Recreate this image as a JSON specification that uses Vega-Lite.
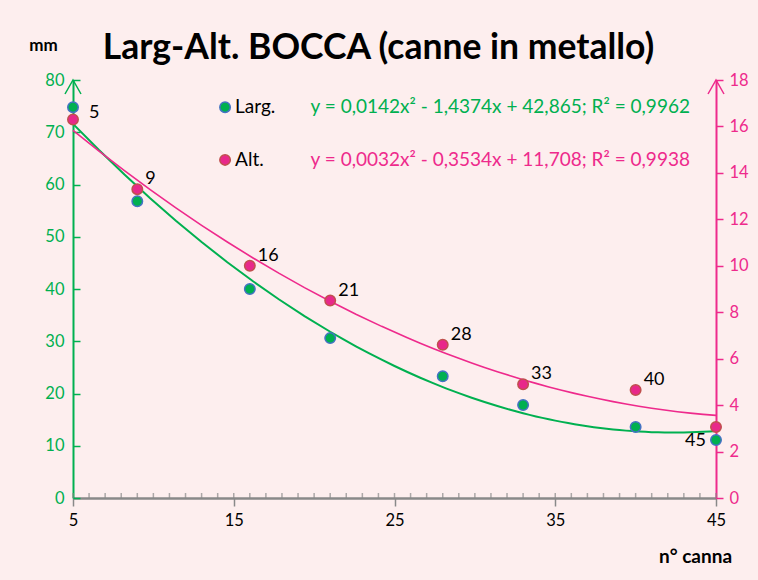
{
  "$schema": "https://vega.github.io/schema/vega-lite/v6.json",
  "width": 643,
  "height": 418,
  "autosize": "none",
  "padding": {"left": 73, "top": 80, "right": 42, "bottom": 82},
  "background": "#FDEEEE",
  "title": {"text": "Larg-Alt. BOCCA (canne in metallo)", "fontSize": 35.5, "font": "Lato", "fontWeight": "bold", "color": "#000000", "anchor": "middle", "dx": -16, "offset": 0, "dy": 30},
  "config": {
    "view": {"stroke": null},
    "font": "Lato",
    "axis": {"grid": false, "labelFont": "Lato", "titleFont": "Lato", "labelFontSize": 16.5}
  },
  "datasets": {
    "misure": [
      {"n": 5, "larg": 74.8, "alt": 16.3},
      {"n": 9, "larg": 56.8, "alt": 13.3},
      {"n": 16, "larg": 40.0, "alt": 10.0},
      {"n": 21, "larg": 30.6, "alt": 8.5},
      {"n": 28, "larg": 23.3, "alt": 6.6},
      {"n": 33, "larg": 17.8, "alt": 4.9},
      {"n": 40, "larg": 13.6, "alt": 4.65},
      {"n": 45, "larg": 11.1, "alt": 3.06}
    ],
    "minori": [
      {"n": 5}, {"n": 6}, {"n": 7}, {"n": 8}, {"n": 9}, {"n": 10}, {"n": 11}, {"n": 12}, {"n": 13}, {"n": 14},
      {"n": 15}, {"n": 16}, {"n": 17}, {"n": 18}, {"n": 19}, {"n": 20}, {"n": 21}, {"n": 22}, {"n": 23}, {"n": 24},
      {"n": 25}, {"n": 26}, {"n": 27}, {"n": 28}, {"n": 29}, {"n": 30}, {"n": 31}, {"n": 32}, {"n": 33}, {"n": 34},
      {"n": 35}, {"n": 36}, {"n": 37}, {"n": 38}, {"n": 39}, {"n": 40}, {"n": 41}, {"n": 42}, {"n": 43}, {"n": 44},
      {"n": 45}
    ]
  },
  "data": {"name": "misure"},
  "layer": [
    {
      "layer": [
        {
          "data": {"name": "minori"},
          "mark": {"type": "tick", "orient": "vertical", "size": 5, "yOffset": -2.5, "thickness": 1.5, "color": "#898989"},
          "encoding": {
            "x": {
              "field": "n", "type": "quantitative",
              "scale": {"domain": [5, 45], "nice": false, "zero": false},
              "axis": {
                "values": [5, 15, 25, 35, 45],
                "labelOverlap": false,
                "tickSize": 8, "tickColor": "#898989", "tickWidth": 1.5,
                "domainColor": "#898989", "domainWidth": 2.5,
                "labelColor": "#000000", "labelPadding": 6, "labelFlush": false,
                "title": "n° canna", "titleFontSize": 19, "titleFontWeight": "bold", "titleColor": "#000000",
                "titleX": 622, "titleY": 58, "titleAlign": "center", "titleBaseline": "middle"
              }
            },
            "y": {"datum": 0}
          }
        },
        {
          "transform": [{"regression": "larg", "on": "n", "method": "poly", "order": 2, "extent": [5, 45]}],
          "mark": {"type": "line", "color": "#00B050", "strokeWidth": 2},
          "encoding": {
            "x": {"field": "n", "type": "quantitative"},
            "y": {
              "field": "larg", "type": "quantitative",
              "scale": {"domain": [0, 80], "nice": false},
              "axis": {
                "orient": "left",
                "values": [0, 10, 20, 30, 40, 50, 60, 70, 80],
                "tickSize": -7, "tickColor": "#00B050", "tickWidth": 1.5,
                "domainColor": "#00B050", "domainWidth": 2,
                "labelColor": "#00B050", "labelPadding": 16,
                "title": "mm", "titleAngle": 0, "titleFontSize": 17, "titleFontWeight": "bold", "titleColor": "#000000",
                "titleX": -30, "titleY": -35, "titleAlign": "center", "titleBaseline": "middle"
              }
            }
          }
        },
        {
          "mark": {"type": "circle", "size": 110, "opacity": 1, "color": "#00B050", "stroke": "#4472C4", "strokeWidth": 1.5},
          "encoding": {
            "x": {"field": "n", "type": "quantitative"},
            "y": {"field": "larg", "type": "quantitative"}
          }
        },
        {
          "transform": [{"filter": "datum.n == 45"}],
          "mark": {"type": "text", "align": "right", "baseline": "middle", "dx": -10, "dy": 1, "fontSize": 18, "color": "#000000"},
          "encoding": {
            "x": {"field": "n", "type": "quantitative"},
            "y": {"field": "larg", "type": "quantitative"},
            "text": {"field": "n", "type": "quantitative"}
          }
        },
        {
          "data": {"values": [{}]},
          "mark": {"type": "circle", "size": 110, "opacity": 1, "color": "#00B050", "stroke": "#4472C4", "strokeWidth": 1.5},
          "encoding": {"x": {"datum": 14.46}, "y": {"datum": 74.8}}
        },
        {
          "data": {"values": [{}]},
          "mark": {"type": "text", "text": "Larg.", "align": "left", "baseline": "middle", "dx": 10, "fontSize": 19, "color": "#000000"},
          "encoding": {"x": {"datum": 14.46}, "y": {"datum": 74.8}}
        },
        {
          "data": {"values": [{}]},
          "mark": {"type": "text", "text": "y = 0,0142x² - 1,4374x + 42,865; R² = 0,9962", "align": "right", "baseline": "middle", "fontSize": 19, "color": "#00B050"},
          "encoding": {"x": {"datum": 43.38}, "y": {"datum": 74.8}}
        },
        {
          "data": {"values": [{}]},
          "mark": {"type": "point", "shape": "M-1,1.75L0,0L1,1.75", "size": 256, "filled": false, "stroke": "#00B050", "strokeWidth": 1.5, "opacity": 1},
          "encoding": {"x": {"datum": 5}, "y": {"datum": 80}}
        }
      ]
    },
    {
      "layer": [
        {
          "transform": [{"regression": "alt", "on": "n", "method": "poly", "order": 2, "extent": [5, 45]}],
          "mark": {"type": "line", "color": "#EE2A8C", "strokeWidth": 1.6},
          "encoding": {
            "x": {"field": "n", "type": "quantitative"},
            "y": {
              "field": "alt", "type": "quantitative",
              "scale": {"domain": [0, 18], "nice": false},
              "axis": {
                "orient": "right",
                "values": [0, 2, 4, 6, 8, 10, 12, 14, 16, 18],
                "tickSize": 7, "tickColor": "#EE2A8C", "tickWidth": 1.5,
                "domainColor": "#EE2A8C", "domainWidth": 2,
                "labelColor": "#EE2A8C", "labelPadding": 6,
                "title": null
              }
            }
          }
        },
        {
          "mark": {"type": "circle", "size": 110, "opacity": 1, "color": "#E8288A", "stroke": "#C0504D", "strokeWidth": 1.5},
          "encoding": {
            "x": {"field": "n", "type": "quantitative"},
            "y": {"field": "alt", "type": "quantitative"}
          }
        },
        {
          "transform": [{"filter": "datum.n != 5 && datum.n != 45"}],
          "mark": {"type": "text", "align": "left", "baseline": "middle", "dx": 8, "dy": -10, "fontSize": 18, "color": "#000000"},
          "encoding": {
            "x": {"field": "n", "type": "quantitative"},
            "y": {"field": "alt", "type": "quantitative"},
            "text": {"field": "n", "type": "quantitative"}
          }
        },
        {
          "transform": [{"filter": "datum.n == 5"}],
          "mark": {"type": "text", "align": "left", "baseline": "middle", "dx": 16, "dy": -6, "fontSize": 18, "color": "#000000"},
          "encoding": {
            "x": {"field": "n", "type": "quantitative"},
            "y": {"field": "alt", "type": "quantitative"},
            "text": {"field": "n", "type": "quantitative"}
          }
        },
        {
          "data": {"values": [{}]},
          "mark": {"type": "circle", "size": 110, "opacity": 1, "color": "#E8288A", "stroke": "#C0504D", "strokeWidth": 1.5},
          "encoding": {"x": {"datum": 14.46}, "y": {"datum": 14.56}}
        },
        {
          "data": {"values": [{}]},
          "mark": {"type": "text", "text": "Alt.", "align": "left", "baseline": "middle", "dx": 10, "fontSize": 19, "color": "#000000"},
          "encoding": {"x": {"datum": 14.46}, "y": {"datum": 14.56}}
        },
        {
          "data": {"values": [{}]},
          "mark": {"type": "text", "text": "y = 0,0032x² - 0,3534x + 11,708; R² = 0,9938", "align": "right", "baseline": "middle", "fontSize": 19, "color": "#EE2A8C"},
          "encoding": {"x": {"datum": 43.38}, "y": {"datum": 14.56}}
        },
        {
          "data": {"values": [{}]},
          "mark": {"type": "point", "shape": "M-1,1.75L0,0L1,1.75", "size": 256, "filled": false, "stroke": "#EE2A8C", "strokeWidth": 1.5, "opacity": 1},
          "encoding": {"x": {"datum": 45}, "y": {"datum": 18}}
        }
      ]
    }
  ],
  "resolve": {"scale": {"y": "independent"}}
}
